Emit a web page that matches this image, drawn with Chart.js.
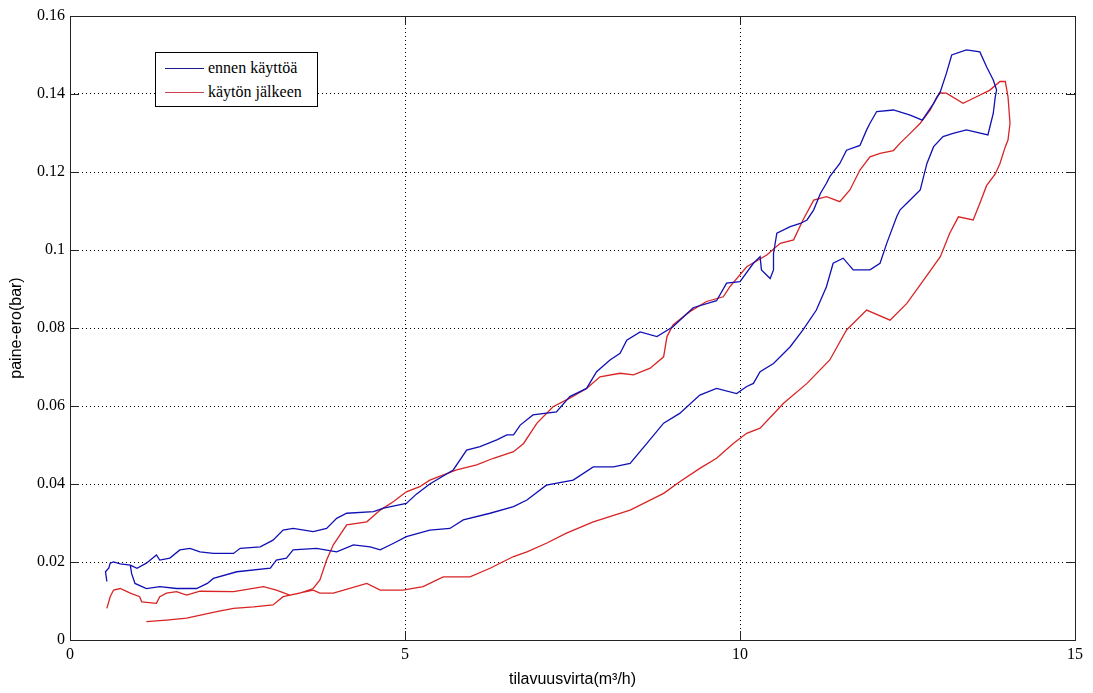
<!DOCTYPE html>
<html>
<head>
<meta charset="utf-8">
<script src="https://cdn.jsdelivr.net/npm/chart.js@4.4.0/dist/chart.umd.min.js"></script>
<style>
  html, body { margin: 0; padding: 0; background: #fff; }
  #wrap { position: relative; width: 1093px; height: 693px; }
  #legend {
    position: absolute; left: 155px; top: 52px; width: 161px; height: 53px;
    border: 1px solid #000; background: #fff;
    font-family: "Times New Roman", "Liberation Serif", "DejaVu Serif", serif; font-size: 16px; color: #000;
  }
  #legend .row { position: absolute; left: 0; height: 20px; line-height: 20px; white-space: nowrap; }
  #legend .line { position: absolute; left: 9px; top: 10px; width: 39px; height: 0; border-top: 1px solid; }
  #legend .txt { position: absolute; left: 52px; top: 0; }
</style>
</head>
<body>
<div id="wrap">
  <canvas id="chart" width="1093" height="693"></canvas>
  <div id="legend">
    <div class="row" style="top:5px"><span class="line" style="border-color:#1a1a8c"></span><span class="txt">ennen käyttöä</span></div>
    <div class="row" style="top:29px"><span class="line" style="border-color:#c8404c"></span><span class="txt">käytön jälkeen</span></div>
  </div>
</div>
<script>
// ennen käyttöä (sininen)
const beforeX = [0.55, 0.53, 0.58, 0.6, 0.65, 0.75, 0.9, 1.0, 1.14, 1.29, 1.34, 1.49, 1.64, 1.79, 1.94, 2.14, 2.44, 2.54, 2.84, 3.03,
  3.18, 3.33, 3.63, 3.83, 3.98, 4.13, 4.53, 4.68, 5.02, 5.17, 5.37, 5.72, 5.92, 6.12, 6.37, 6.52, 6.62, 6.72, 6.91, 7.26,
  7.46, 7.71, 7.86, 8.06, 8.21, 8.31, 8.51, 8.76, 9.0, 9.3, 9.65, 9.8, 10.0, 10.2, 10.3, 10.32, 10.45, 10.5, 10.5, 10.55,
  10.75, 10.9, 11.0, 11.1, 11.2, 11.29, 11.34, 11.49, 11.59, 11.79, 11.89, 11.94, 12.04, 12.29, 12.54, 12.72, 12.89, 12.99, 13.08, 13.16,
  13.38, 13.58, 13.68, 13.78, 13.83, 13.81, 13.78, 13.73, 13.7, 13.38, 13.18, 13.03, 12.89, 12.79, 12.74, 12.69, 12.49, 12.39, 12.34, 12.19,
  12.09, 11.94, 11.69, 11.54, 11.39, 11.29, 11.14, 10.94, 10.75, 10.5, 10.3, 10.2, 10.1, 9.95, 9.65, 9.4, 9.1, 8.86, 8.61, 8.36,
  8.11, 7.81, 7.51, 7.11, 6.82, 6.62, 6.27, 5.87, 5.67, 5.37, 5.02, 4.83, 4.63, 4.48, 4.23, 3.98, 3.68, 3.33, 3.23, 3.08,
  2.99, 2.49, 2.14, 2.05, 1.89, 1.59, 1.34, 1.14, 0.97, 0.92, 0.9];
const beforeY = [0.015, 0.0175, 0.0185, 0.0197, 0.02, 0.0195, 0.0192, 0.0184, 0.0197, 0.0218, 0.0205, 0.021, 0.0231, 0.0235, 0.0226, 0.0222, 0.0222, 0.0235, 0.0239, 0.0256,
  0.0282, 0.0286, 0.0278, 0.0286, 0.0312, 0.0325, 0.0329, 0.0338, 0.035, 0.0374, 0.040, 0.0436, 0.0487, 0.0496, 0.0513, 0.0526, 0.0526, 0.0551, 0.0577, 0.0585,
  0.0624, 0.0645, 0.0688, 0.0718, 0.0735, 0.0769, 0.079, 0.0778, 0.0803, 0.0852, 0.087, 0.0915, 0.0919, 0.0966, 0.0983, 0.0949, 0.0927, 0.0949, 0.0991, 0.1043,
  0.106, 0.1068, 0.1077, 0.1103, 0.1145, 0.1171, 0.1188, 0.1222, 0.1256, 0.1268, 0.1308, 0.1325, 0.1355, 0.1359, 0.1346, 0.1333, 0.1376, 0.1406, 0.1453, 0.15,
  0.1513, 0.1508, 0.147, 0.1436, 0.141, 0.1393, 0.135, 0.1316, 0.1295, 0.1308, 0.1299, 0.1291, 0.1265, 0.1222, 0.1188, 0.1154, 0.112, 0.1103, 0.1086, 0.1017,
  0.0966, 0.0949, 0.0949, 0.0979, 0.0966, 0.0906, 0.0846, 0.0795, 0.0752, 0.0709, 0.0688, 0.0658, 0.065, 0.0632, 0.0645, 0.0628, 0.0581, 0.0556, 0.0504, 0.0453,
  0.0444, 0.0444, 0.041, 0.0397, 0.0359, 0.0342, 0.0325, 0.0308, 0.0286, 0.0282, 0.0265, 0.0248, 0.0231, 0.0239, 0.0244, 0.0226, 0.0235, 0.0231, 0.021, 0.0205,
  0.0184, 0.0175, 0.0158, 0.0145, 0.0132, 0.0132, 0.0137, 0.0132, 0.0145, 0.017, 0.0192];

// käytön jälkeen (punainen)
const afterX = [1.14, 1.44, 1.74, 2.19, 2.44, 2.74, 3.03, 3.18, 3.43, 3.63, 3.73, 3.83, 3.93, 4.13, 4.43, 4.63, 4.83, 5.02, 5.22, 5.37,
  5.77, 6.07, 6.32, 6.62, 6.77, 6.97, 7.21, 7.46, 7.71, 7.91, 8.21, 8.41, 8.66, 8.86, 8.91, 9.0, 9.25, 9.5, 9.75, 9.85,
  10.1, 10.4, 10.6, 10.8, 10.94, 11.1, 11.29, 11.49, 11.64, 11.79, 11.94, 12.09, 12.29, 12.39, 12.54, 12.69, 12.84, 12.94, 12.99, 13.08,
  13.33, 13.53, 13.73, 13.88, 13.96, 14.0, 14.03, 14.0, 13.96, 13.88, 13.81, 13.68, 13.58, 13.48, 13.26, 13.13, 12.99, 12.74, 12.49, 12.24,
  11.89, 11.59, 11.34, 11.0, 10.65, 10.3, 10.1, 9.9, 9.65, 9.4, 9.1, 8.86, 8.36, 7.81, 7.41, 7.11, 6.82, 6.62, 6.27, 5.97,
  5.57, 5.27, 4.97, 4.63, 4.43, 3.93, 3.73, 3.63, 3.28, 3.08, 2.89, 2.44, 1.94, 1.74, 1.59, 1.44, 1.34, 1.29, 1.07, 1.04,
  0.9, 0.75, 0.65, 0.6, 0.55];
const afterY = [0.0047, 0.0051, 0.0056, 0.0073, 0.0081, 0.0085, 0.009, 0.0111, 0.012, 0.0132, 0.0154, 0.0205, 0.0244, 0.0295, 0.0303, 0.0333, 0.0355, 0.038, 0.0393, 0.041,
  0.0436, 0.0449, 0.0466, 0.0483, 0.0504, 0.0556, 0.0598, 0.062, 0.0645, 0.0675, 0.0684, 0.068, 0.0697, 0.0726, 0.0778, 0.0808, 0.0842, 0.0868, 0.088, 0.0906,
  0.0957, 0.0987, 0.1017, 0.1026, 0.1077, 0.1128, 0.1137, 0.1124, 0.1154, 0.1205, 0.1239, 0.1248, 0.1255, 0.1274, 0.1299, 0.1325, 0.1359, 0.1393, 0.1403, 0.1402,
  0.1376, 0.1393, 0.141, 0.1432, 0.1432, 0.1393, 0.1325, 0.1282, 0.1265, 0.1222, 0.1195, 0.1165, 0.112, 0.1077, 0.1085, 0.1043, 0.0983, 0.0923, 0.0863, 0.082,
  0.0846, 0.0795, 0.0718, 0.0658, 0.0607, 0.0543, 0.053, 0.0504, 0.0466, 0.044, 0.0406, 0.0376, 0.0333, 0.0303, 0.0274, 0.0248, 0.0226, 0.0214, 0.0184, 0.0162,
  0.0162, 0.0137, 0.0128, 0.0128, 0.0145, 0.012, 0.012, 0.0128, 0.0115, 0.0128, 0.0137, 0.0124, 0.0125, 0.0115, 0.0124, 0.012, 0.0111, 0.0094, 0.0098, 0.0111,
  0.012, 0.0132, 0.0128, 0.0111, 0.0081];

const xTicks = [0, 5, 10, 15];
const yTicks = [0, 0.02, 0.04, 0.06, 0.08, 0.1, 0.12, 0.14, 0.16];

function toPoints(xs, ys) {
    return xs.map((x, i) => ({ x: x, y: ys[i] }));
}

const serif = '"Times New Roman", "Liberation Serif", "DejaVu Serif", serif';
const sans = '"Liberation Sans", Arial, sans-serif';

// MATLAB-tyylinen kehys ja sisäänpäin osoittavat tick-merkit
const boxPlugin = {
    id: 'boxPlugin',
    afterDatasetsDraw(chart) {
        const { ctx, chartArea: a, scales } = chart;
        ctx.save();
        ctx.strokeStyle = '#222';
        ctx.lineWidth = 1;
        ctx.setLineDash([]);
        ctx.strokeRect(Math.round(a.left) + 0.5, Math.round(a.top) + 0.5,
            Math.round(a.right - a.left), Math.round(a.bottom - a.top));
        ctx.beginPath();
        xTicks.forEach(v => {
            const px = Math.round(scales.x.getPixelForValue(v)) + 0.5;
            ctx.moveTo(px, a.bottom); ctx.lineTo(px, a.bottom - 9);
            ctx.moveTo(px, a.top); ctx.lineTo(px, a.top + 9);
        });
        yTicks.forEach(v => {
            const py = Math.round(scales.y.getPixelForValue(v)) + 0.5;
            ctx.moveTo(a.left, py); ctx.lineTo(a.left + 9, py);
            ctx.moveTo(a.right, py); ctx.lineTo(a.right - 9, py);
        });
        ctx.stroke();
        ctx.restore();
    }
};

new Chart(document.getElementById('chart'), {
    type: 'scatter',
    data: {
        datasets: [
            {
                label: 'ennen käyttöä',
                data: toPoints(beforeX, beforeY),
                showLine: true,
                borderColor: '#1010b4',
                backgroundColor: '#1010b4',
                borderWidth: 1.3,
                pointRadius: 0,
                tension: 0
            },
            {
                label: 'käytön jälkeen',
                data: toPoints(afterX, afterY),
                showLine: true,
                borderColor: '#d82424',
                backgroundColor: '#d82424',
                borderWidth: 1.3,
                pointRadius: 0,
                tension: 0
            }
        ]
    },
    options: {
        responsive: false,
        animation: false,
        layout: { padding: { left: 0, right: 18, top: 16, bottom: 0 } },
        plugins: {
            legend: { display: false },
            tooltip: { enabled: false }
        },
        scales: {
            x: {
                type: 'linear',
                min: 0,
                max: 15,
                afterBuildTicks: s => { s.ticks = xTicks.map(v => ({ value: v })); },
                ticks: {
                    font: { family: serif, size: 16 },
                    color: '#000',
                    padding: 5,
                    maxRotation: 0,
                    callback: v => String(v)
                },
                grid: { color: '#000', lineWidth: 1, drawTicks: false },
                border: { display: false, dash: [1, 3] },
                title: {
                    display: true,
                    text: 'tilavuusvirta(m³/h)',
                    font: { family: sans, size: 16 },
                    color: '#000',
                    padding: { top: 0, bottom: 4 }
                },
                afterFit: s => { s.height = 53; }
            },
            y: {
                type: 'linear',
                min: 0,
                max: 0.16,
                afterBuildTicks: s => { s.ticks = yTicks.map(v => ({ value: v })); },
                ticks: {
                    font: { family: serif, size: 16 },
                    color: '#000',
                    padding: 5,
                    callback: v => String(+v.toFixed(2))
                },
                grid: { color: '#000', lineWidth: 1, drawTicks: false },
                border: { display: false, dash: [1, 3] },
                title: {
                    display: true,
                    text: 'paine-ero(bar)',
                    font: { family: sans, size: 16 },
                    color: '#000',
                    padding: { top: 7, bottom: 0 }
                },
                afterFit: s => { s.width = 70; }
            }
        }
    },
    plugins: [boxPlugin]
});
</script>
</body>
</html>
